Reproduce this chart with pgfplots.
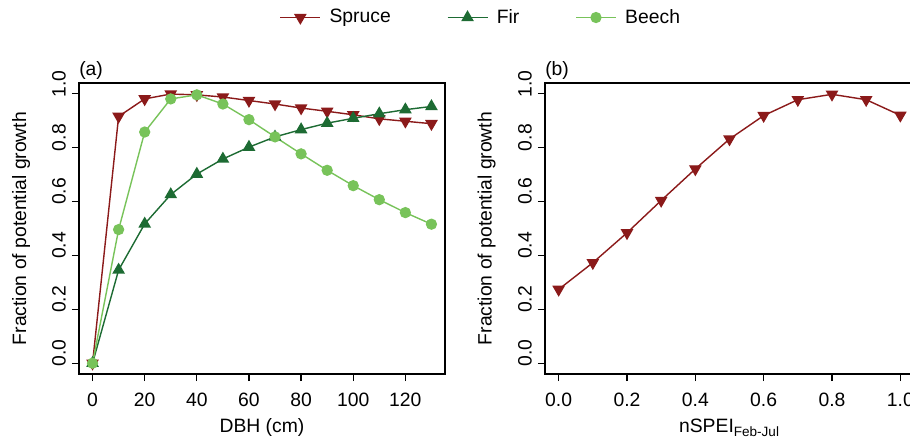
\documentclass[border=0pt]{standalone}
\usepackage{fontspec}
\setmainfont{Liberation Sans}
\usepackage{pgfplots}
\pgfplotsset{compat=1.18}
\definecolor{spruce}{HTML}{8B1A1A}
\definecolor{fir}{HTML}{1D6B33}
\definecolor{beech}{HTML}{78C35A}

\pgfplotsset{
  rpanel/.style={
    scale only axis, anchor=south west,
    height=5.82cm,
    ymin=-0.04, ymax=1.04,
    ytick={0,0.2,...,1.0},
    yticklabel style={rotate=90, anchor=south, xshift=0.2cm, /pgf/number format/fixed, /pgf/number format/fixed zerofill, /pgf/number format/precision=1},
    xticklabel style={yshift=-0.12cm},
    tick align=outside, xtick pos=bottom, ytick pos=left,
    major tick length=0.14cm,
    every tick/.style={black, line width=0.7pt},
    axis line style={line width=1pt},
    tick label style={font=\fontsize{11}{13}\selectfont},
    label style={font=\fontsize{11}{13}\selectfont},
    /pgf/number format/assume math mode=true,
    ylabel={Fraction of potential growth},
    ylabel style={at={(axis description cs:-0.158,0.5)}, anchor=center},
    xlabel style={at={(axis description cs:0.5,-0.185)}, anchor=center},
    clip=false,
  },
  sp/.style={spruce, line width=0.8pt, mark=triangle*, mark size=3.4pt, mark options={rotate=180, solid}},
  fi/.style={fir, line width=0.8pt, mark=triangle*, mark size=3.4pt},
  be/.style={beech, line width=0.8pt, mark=*, mark size=2.8pt},
}

\begin{document}
\begin{tikzpicture}
\useasboundingbox (0,0) rectangle (18.2,8.94);
\clip (0,0) rectangle (18.2,8.94);

% (a) growth vs DBH
\begin{axis}[rpanel,
  at={(1.58cm,1.46cm)}, width=7.32cm,
  xmin=-5.2, xmax=135.2,
  xtick={0,20,...,120},
  xlabel={DBH (cm)},
  legend columns=3,
  legend style={draw=none, fill=none, at={(axis description cs:1.1,1.225)}, anchor=center,
    font=\fontsize{11}{13}\selectfont,
    /tikz/every odd column/.append style={column sep=0.1cm},
    /tikz/every even column/.append style={column sep=1.05cm}},
  legend image code/.code={\draw[mark repeat=2, mark phase=2] plot coordinates {(0cm,0cm) (0.4cm,0cm) (0.8cm,0cm)};},
]
\addplot[sp] coordinates {(0,0) (10,0.916) (20,0.981) (30,0.999) (40,0.996) (50,0.988) (60,0.975)
  (70,0.962) (80,0.947) (90,0.935) (100,0.922) (110,0.907) (120,0.898) (130,0.889)};
\addplot[fi] coordinates {(0,0) (10,0.346) (20,0.517) (30,0.626) (40,0.702) (50,0.758) (60,0.802)
  (70,0.840) (80,0.867) (90,0.891) (100,0.909) (110,0.926) (120,0.941) (130,0.953)};
\addplot[be] coordinates {(0,0) (10,0.496) (20,0.858) (30,0.981) (40,0.996) (50,0.962) (60,0.904)
  (70,0.840) (80,0.777) (90,0.716) (100,0.659) (110,0.607) (120,0.559) (130,0.516)};
\legend{Spruce, Fir, Beech}
\node[anchor=south west, inner sep=1pt, font=\fontsize{11}{13}\selectfont] at (rel axis cs:-0.005,1.005) {(a)};
\end{axis}

% (b) growth vs nSPEI
\begin{axis}[rpanel,
  at={(10.9cm,1.46cm)}, width=7.38cm,
  xmin=-0.04, xmax=1.04,
  xtick={0,0.2,...,1.0},
  xticklabel style={/pgf/number format/fixed, /pgf/number format/fixed zerofill, /pgf/number format/precision=1},
  xlabel={nSPEI\textsubscript{Feb-Jul}},
]
\addplot[sp] coordinates {(0,0.274) (0.1,0.373) (0.2,0.484) (0.3,0.604) (0.4,0.721) (0.5,0.832)
  (0.6,0.919) (0.7,0.978) (0.8,0.998) (0.9,0.978) (1.0,0.920)};
\node[anchor=south west, inner sep=1pt, font=\fontsize{11}{13}\selectfont] at (rel axis cs:-0.005,1.005) {(b)};
\end{axis}
\end{tikzpicture}
\end{document}
